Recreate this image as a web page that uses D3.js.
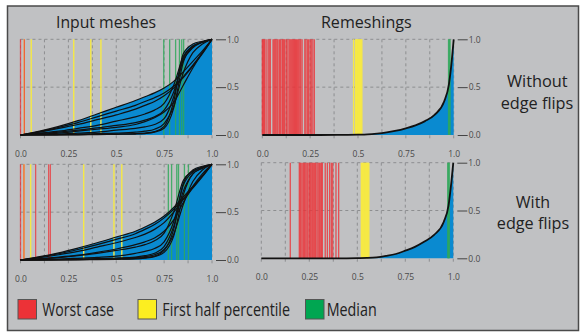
<!DOCTYPE html>
<html>
<head>
<meta charset="utf-8">
<script src="https://cdn.jsdelivr.net/npm/d3@7"></script>
<style>
  html, body { margin: 0; padding: 0; background: #fff; }
  svg { display: block; font-family: "Open Sans", "Noto Sans", sans-serif; }
</style>
</head>
<body>
<div id="chart"></div>
<script>
// sample positions for the input-mesh curves
const inputX = [0, 0.1, 0.2, 0.3, 0.4, 0.5, 0.6, 0.65, 0.7, 0.75, 0.8, 0.85, 0.9, 0.95, 1];

// input meshes, without edge flips
const inputNoFlip = [
  [0, .04, .09, .15, .22, .29, .36, .40, .44, .49, .56, .66, .77, .88, 1],
  [0, .035, .08, .13, .19, .25, .31, .35, .39, .44, .51, .61, .73, .86, 1],
  [0, .03, .07, .11, .16, .21, .27, .31, .35, .41, .49, .60, .72, .85, 1],
  [0, .02, .04, .07, .10, .145, .19, .22, .26, .33, .52, .82, .93, .97, 1],
  [0, .015, .03, .05, .075, .10, .13, .155, .19, .26, .45, .78, .91, .97, 1],
  [0, .01, .02, .04, .06, .08, .11, .14, .18, .24, .34, .52, .70, .86, 1],
  [0, .005, .01, .02, .03, .05, .07, .085, .11, .17, .40, .80, .93, .97, 1],
  [0, 0, .002, .004, .007, .01, .015, .02, .035, .09, .35, .85, .95, .98, 1],
  [0, 0, .001, .002, .004, .007, .01, .015, .03, .07, .28, .76, .92, .97, 1],
  [0, .002, .005, .01, .015, .02, .03, .04, .06, .12, .30, .65, .86, .95, 1]
];

// input meshes, with edge flips
const inputFlip = [
  [0, .035, .075, .125, .18, .24, .30, .345, .395, .46, .55, .66, .77, .88, 1],
  [0, .03, .065, .11, .16, .215, .275, .32, .37, .44, .53, .64, .76, .88, 1],
  [0, .025, .055, .09, .135, .18, .235, .27, .32, .39, .50, .63, .75, .87, 1],
  [0, .01, .025, .045, .07, .10, .135, .16, .20, .28, .50, .83, .93, .97, 1],
  [0, .004, .01, .018, .027, .04, .07, .09, .12, .19, .40, .78, .92, .97, 1],
  [0, .002, .005, .009, .014, .02, .03, .045, .07, .14, .35, .72, .90, .96, 1],
  [0, 0, .002, .004, .006, .01, .018, .025, .04, .10, .32, .80, .94, .98, 1],
  [0, 0, .001, .002, .004, .007, .012, .02, .035, .08, .25, .68, .90, .96, 1],
  [0, .001, .003, .006, .01, .015, .025, .035, .055, .11, .27, .58, .82, .94, 1],
  [0, .015, .03, .05, .08, .115, .16, .19, .23, .30, .42, .60, .77, .90, 1]
];

// sample positions for the remeshing curves
const remeshX = [0, .1, .2, .3, .4, .5, .55, .6, .65, .7, .75, .8, .85, .9, .95, .975, .99, 1];
const remeshNoFlip = [0, 0, 0, 0, .001, .003, .006, .015, .028, .045, .07, .10, .145, .21, .35, .53, .78, 1];
const remeshFlip   = [0, 0, 0, 0, 0, .002, .004, .01, .025, .045, .08, .12, .175, .245, .38, .55, .80, 1];

// marker positions
const worstInNoFlip  = [0.0, 0.02];
const halfInNoFlip   = [0.02, 0.056, 0.278, 0.367, 0.42];
const medianInNoFlip = [0.748, 0.779, 0.81, 0.83, 0.842, 0.852];

const worstInFlip  = [0.0, 0.018, 0.079, 0.147, 0.156];
const halfInFlip   = [0.018, 0.053, 0.33, 0.488, 0.529];
const medianInFlip = [0.772, 0.789, 0.816, 0.825, 0.856, 0.877];

const worstReNoFlip = [0.0, 0.004, 0.008, 0.012, 0.02, 0.03, 0.036, 0.042, 0.056, 0.061, 0.066, 0.071,
  0.077, 0.082, 0.09, 0.095, 0.103, 0.107, 0.112, 0.117, 0.125, 0.13, 0.139, 0.144, 0.149, 0.154,
  0.159, 0.164, 0.169, 0.174, 0.179, 0.184, 0.19, 0.196, 0.201, 0.208, 0.222, 0.228, 0.236, 0.242,
  0.25, 0.256, 0.264, 0.272];
const halfReNoFlip   = [0.477, 0.488, 0.492, 0.496, 0.5, 0.504, 0.508, 0.512, 0.516, 0.52];
const medianReNoFlip = [0.973, 0.977, 0.981];

const worstReFlip = [0.151, 0.198, 0.203, 0.208, 0.216, 0.221, 0.226, 0.232, 0.238, 0.243, 0.25,
  0.255, 0.26, 0.266, 0.272, 0.278, 0.283, 0.29, 0.296, 0.302, 0.307, 0.313, 0.318, 0.333, 0.344,
  0.356, 0.365, 0.372, 0.389, 0.403];
const halfReFlip   = [0.521, 0.528, 0.532, 0.536, 0.54, 0.544, 0.548, 0.552, 0.556, 0.56];
const medianReFlip = [0.971, 0.975, 0.979];

const xTickValues = [0, 0.25, 0.5, 0.75, 1];
const xTickLabels = ["0.0", "0.25", "0.5", "0.75", "1.0"];
const yTickValues = [0, 0.5, 1];
const yTickLabels = ["0.0", "0.5", "1.0"];

const colTitles = ["Input meshes", "Remeshings"];
const rowTitles = [["Without", "edge flips"], ["With", "edge flips"]];
const legendItems = ["Worst case", "First half percentile", "Median"];

const RED = "#ec3237", YELLOW = "#f6e945", GREEN = "#2fa85a", BLUE = "#0a8ad0";

const svg = d3.select("#chart").append("svg")
  .attr("width", 581).attr("height", 333)
  .attr("viewBox", "0 0 581 333");

svg.append("rect")
  .attr("x", 7.5).attr("y", 6).attr("width", 571).attr("height", 324.5)
  .attr("fill", "#c0c1c3").attr("stroke", "#4a4a4a").attr("stroke-width", 1.5);

const panels = [
  { box: [20.5, 212, 39.3, 135], kind: "input", curves: inputNoFlip,
    worst: worstInNoFlip, half: halfInNoFlip, median: medianInNoFlip },
  { box: [262.3, 453.7, 39.3, 135], kind: "remesh", curves: [remeshNoFlip],
    worst: worstReNoFlip, half: halfReNoFlip, median: medianReNoFlip },
  { box: [20.5, 212, 164.3, 260], kind: "input", curves: inputFlip,
    worst: worstInFlip, half: halfInFlip, median: medianInFlip },
  { box: [261.3, 453.3, 162.7, 258.3], kind: "remesh", curves: [remeshFlip],
    worst: worstReFlip, half: halfReFlip, median: medianReFlip }
];

panels.forEach(p => {
  const [x0, x1, y1, y0] = p.box;
  const x = d3.scaleLinear().domain([0, 1]).range([x0, x1]);
  const y = d3.scaleLinear().domain([0, 1]).range([y0, y1]);
  const g = svg.append("g");
  const xs = p.kind === "input" ? inputX : remeshX;

  // dashed grid
  g.selectAll(".vg").data(d3.range(0, 1.0001, 0.125)).enter().append("line")
    .attr("x1", d => x(d)).attr("x2", d => x(d))
    .attr("y1", y(1)).attr("y2", y(0) + 6)
    .attr("stroke", "#8d8e90").attr("stroke-dasharray", "3,3").attr("stroke-width", 1);
  g.selectAll(".hg").data([0.5, 1]).enter().append("line")
    .attr("x1", x(0)).attr("x2", x(1))
    .attr("y1", d => y(d)).attr("y2", d => y(d))
    .attr("stroke", "#8d8e90").attr("stroke-dasharray", "3,3").attr("stroke-width", 1);

  const area = d3.area()
    .x((d, i) => x(xs[i])).y0(y(0)).y1(d => y(d))
    .curve(d3.curveMonotoneX);
  const line = d3.line()
    .x((d, i) => x(xs[i])).y(d => y(d))
    .curve(d3.curveMonotoneX);

  g.selectAll(".fill").data(p.curves).enter().append("path")
    .attr("d", area).attr("fill", BLUE);

  const marks = (vals, color, op, w) => {
    g.append("g").selectAll("line").data(vals).enter().append("line")
      .attr("x1", d => x(d)).attr("x2", d => x(d))
      .attr("y1", y(0)).attr("y2", y(1))
      .attr("stroke", color).attr("stroke-opacity", op).attr("stroke-width", w);
  };
  marks(p.half, YELLOW, 1, 1.4);
  marks(p.worst, RED, p.kind === "input" ? 0.75 : 0.8, 1.3);
  marks(p.median, GREEN, 0.85, 1.3);

  g.selectAll(".curve").data(p.curves).enter().append("path")
    .attr("d", line).attr("fill", "none")
    .attr("stroke", "#111")
    .attr("stroke-width", p.kind === "input" ? 1.2 : 1.8);

  // x axis labels
  const xa = g.append("g").attr("transform", `translate(0,${y0})`)
    .call(d3.axisBottom(x).tickValues(xTickValues)
      .tickFormat((d, i) => xTickLabels[i]).tickSize(0).tickPadding(16));
  xa.select(".domain").remove();
  xa.selectAll("text").attr("font-size", 8.5).attr("fill", "#4a4a4a")
    .attr("font-family", "'Open Sans', sans-serif");

  // right y axis
  const ya = g.append("g").attr("transform", `translate(${x1 + 4},0)`)
    .call(d3.axisRight(y).tickValues(yTickValues)
      .tickFormat((d, i) => yTickLabels[i]).tickSize(10).tickPadding(1));
  ya.select(".domain").remove();
  ya.selectAll("line").attr("stroke", "#444");
  ya.selectAll("text").attr("font-size", 8.5).attr("fill", "#4a4a4a")
    .attr("font-family", "'Open Sans', sans-serif");
});

// column titles
const colPos = [[106, 100], [366.3, 90.7]];
colTitles.forEach((t, i) => {
  svg.append("text").text(t)
    .attr("x", colPos[i][0] - colPos[i][1] / 2).attr("y", 28.3)
    .attr("textLength", colPos[i][1]).attr("lengthAdjust", "spacingAndGlyphs")
    .attr("font-size", 17).attr("fill", "#222");
});

// row titles
const rowPos = [
  [[537.3, 87.3, 60.7], [537, 109.3, 72.7]],
  [[533, 207.7, 34.3], [533, 229.3, 72.3]]
];
rowTitles.forEach((lines, r) => {
  lines.forEach((t, k) => {
    const [cx, by, w] = rowPos[r][k];
    svg.append("text").text(t)
      .attr("x", cx - w / 2).attr("y", by)
      .attr("textLength", w).attr("lengthAdjust", "spacingAndGlyphs")
      .attr("font-size", 17).attr("fill", "#222");
  });
});

// legend
const legendBox = [18, 138, 305.5];
const legendText = [[42.3, 71.7], [162.3, 127.7], [326.7, 50]];
const legendColors = [RED, "#fcee21", "#00a651"];
legendItems.forEach((t, i) => {
  svg.append("rect")
    .attr("x", legendBox[i]).attr("y", 299.5).attr("width", 18.5).attr("height", 19.5)
    .attr("fill", legendColors[i]).attr("stroke", "#555").attr("stroke-width", 1);
  svg.append("text").text(t)
    .attr("x", legendText[i][0]).attr("y", 316)
    .attr("textLength", legendText[i][1]).attr("lengthAdjust", "spacingAndGlyphs")
    .attr("font-size", 18).attr("fill", "#222");
});
</script>
</body>
</html>
